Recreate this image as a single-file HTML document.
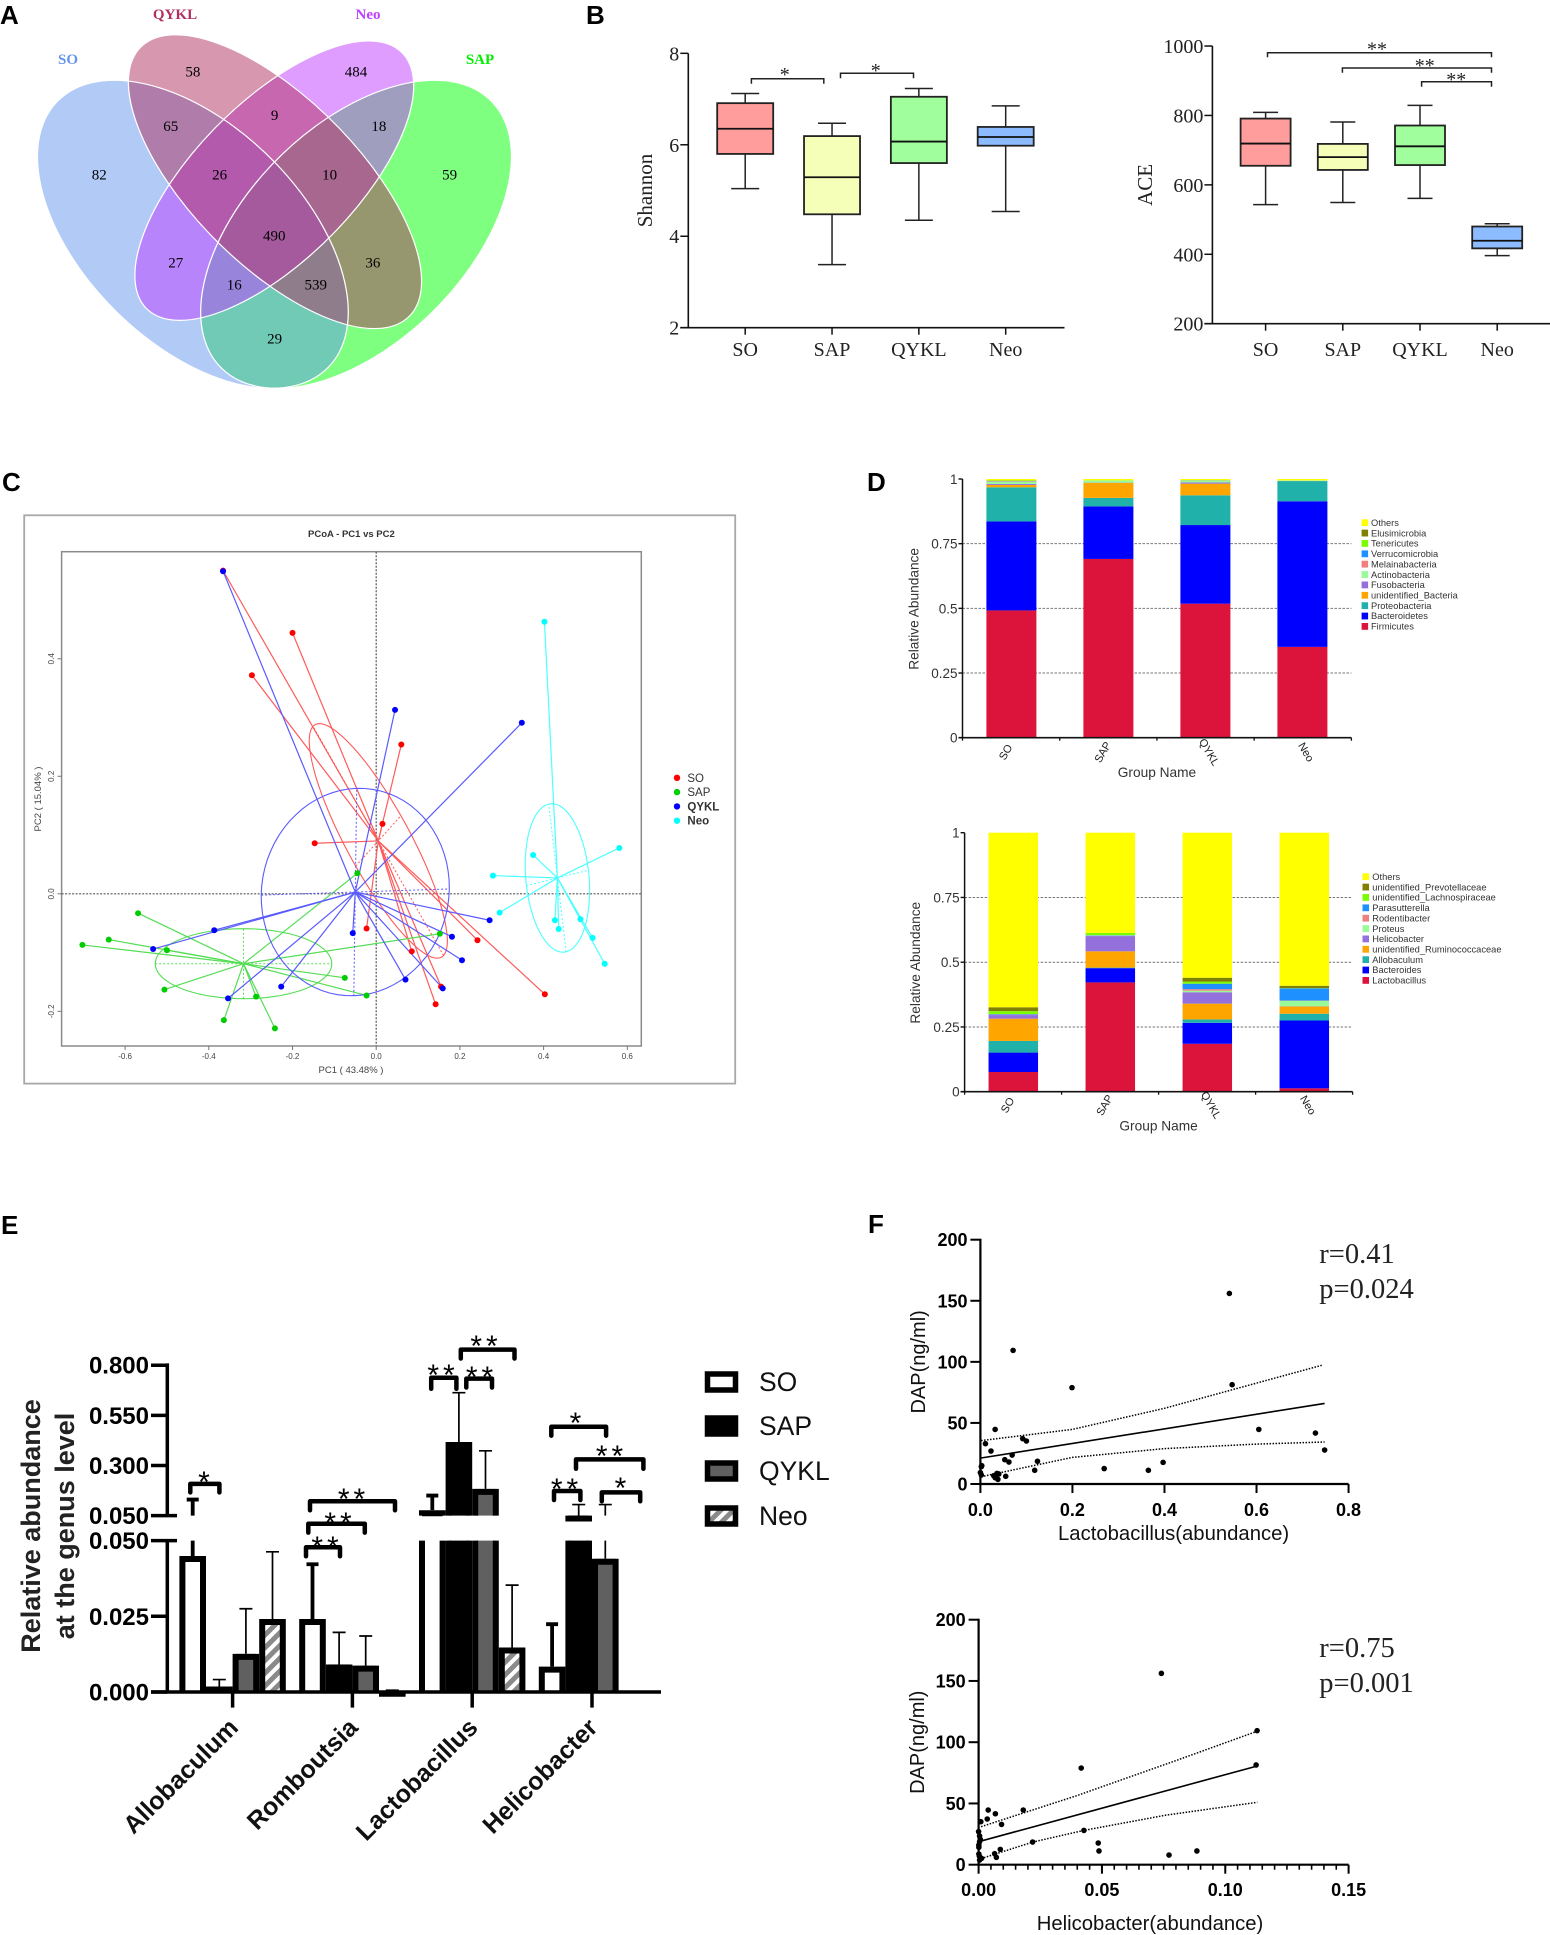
<!DOCTYPE html>
<html>
<head>
<meta charset="utf-8">
<title>Microbiome figure</title>
<style>
html,body{margin:0;padding:0;background:#fff}
svg{display:block}
text{font-family:"Liberation Sans",sans-serif}
.serif{font-family:"Liberation Serif",serif}
</style>
</head>
<body>
<svg id="fig" xmlns="http://www.w3.org/2000/svg" width="1550" height="1935" viewBox="0 0 1550 1935">
<defs>
<pattern id="hatch" width="9" height="9" patternUnits="userSpaceOnUse" patternTransform="rotate(45)">
<rect width="9" height="9" fill="#fff"/>
<rect width="5" height="9" fill="#8a8a8a"/>
</pattern>
</defs>
<rect width="1550" height="1935" fill="#fff"/>

<g font-size="26" font-weight="700" fill="#000">
<text x="0" y="24">A</text>
<text x="586" y="24">B</text>
<text x="2" y="491">C</text>
<text x="867" y="491">D</text>
<text x="1" y="1234">E</text>
<text x="868" y="1233">F</text>
</g>

<g id="panel-a">
<g transform="scale(.35714,.33333)">
<ellipse rx="551" ry="315" transform="translate(997,703) rotate(-48.4)" fill="#00ff00" fill-opacity=".5"/>
<ellipse rx="551" ry="315" transform="translate(540,703) rotate(48.4)" fill="#6495ed" fill-opacity=".5"/>
<ellipse rx="525" ry="229" transform="translate(768,542) rotate(-48)" fill="#bf3eff" fill-opacity=".5"/>
<ellipse rx="552" ry="241" transform="translate(770,545) rotate(48)" fill="#b03060" fill-opacity=".5"/>
<g fill="none" stroke="#fff" stroke-width="3.5">
<ellipse rx="551" ry="315" transform="translate(997,703) rotate(-48.4)"/>
<ellipse rx="551" ry="315" transform="translate(540,703) rotate(48.4)"/>
<ellipse rx="525" ry="229" transform="translate(768,542) rotate(-48)"/>
<ellipse rx="552" ry="241" transform="translate(770,545) rotate(48)"/>
</g>
</g>
<g class="serif" font-size="15" font-weight="700" text-anchor="middle">
<text class="serif" x="68" y="64" fill="#6495ed">SO</text>
<text class="serif" x="175" y="19" fill="#b03060">QYKL</text>
<text class="serif" x="368" y="19" fill="#bf3eff">Neo</text>
<text class="serif" x="480" y="64" fill="#00ee00">SAP</text>
</g>
<g font-size="15" text-anchor="middle" fill="#000">
<text class="serif" x="192.9" y="76.7">58</text>
<text class="serif" x="356" y="76.7">484</text>
<text class="serif" x="170.7" y="131">65</text>
<text class="serif" x="274.6" y="120">9</text>
<text class="serif" x="378.9" y="131">18</text>
<text class="serif" x="99.3" y="179.7">82</text>
<text class="serif" x="219.6" y="179.7">26</text>
<text class="serif" x="329.6" y="179.7">10</text>
<text class="serif" x="449.6" y="179.7">59</text>
<text class="serif" x="274.3" y="240.3">490</text>
<text class="serif" x="175.7" y="267.7">27</text>
<text class="serif" x="372.9" y="267.7">36</text>
<text class="serif" x="234.3" y="289.3">16</text>
<text class="serif" x="315.7" y="289.3">539</text>
<text class="serif" x="274.6" y="343.3">29</text>
</g>
</g>

<g id="panel-b-shannon"></g>
<g fill="none" stroke="#222" stroke-width="1.5">
<path d="M751.4 83.7V78.7H823.8V83.7"/>
<path d="M840.5 78.3V73.3H913.5V78.3"/>
<text class="serif" x="784.8" y="81" font-size="20" fill="#222" stroke="none" text-anchor="middle">*</text>
<text class="serif" x="875.8" y="77" font-size="20" fill="#222" stroke="none" text-anchor="middle">*</text>
</g>

<g id="panel-b-ace"></g>
<g fill="none" stroke="#222" stroke-width="1.5">
<path d="M1267.5 57.3V52.7H1491.5V57.3"/>
<path d="M1342.4 72.7V68H1491.5V72.7"/>
<path d="M1421.6 86.7V81.7H1491.5V86.7"/>
<text class="serif" x="1377" y="55.5" font-size="20" fill="#222" stroke="none" text-anchor="middle">**</text>
<text class="serif" x="1424.7" y="72" font-size="20" fill="#222" stroke="none" text-anchor="middle">**</text>
<text class="serif" x="1456.2" y="86" font-size="20" fill="#222" stroke="none" text-anchor="middle">**</text>
</g>

<g id="panel-c"></g>
<g id="panel-d-top"></g>
<g id="panel-d-bottom"></g>

<g id="panel-e"></g>
<g fill="none" stroke="#000" stroke-width="4.5" stroke-linecap="round" stroke-linejoin="round">
<path d="M190.3 1492.4V1483.9H219.4V1492.4"/>
<path d="M306 1556.3V1547.3H340V1556.3"/>
<path d="M308.3 1532.6V1523.7H364.8V1532.6"/>
<path d="M310 1510.3V1501.3H395V1510.3"/>
<path d="M431.2 1388.8V1377.7H456.4V1388.8"/>
<path d="M466.3 1387.5V1378.6H492V1387.5"/>
<path d="M460.8 1358.5V1349.6H514.5V1358.5"/>
<path d="M551.3 1435.7V1426.8H606.1V1435.7"/>
<path d="M576 1468.8V1459.4H643.4V1468.8"/>
<path d="M554 1500V1491H580.4V1500"/>
<path d="M601.8 1501.3V1492.4H640.2V1501.3"/>
<g font-size="30" fill="#000" stroke="none" text-anchor="middle" letter-spacing="4">
<text x="206" y="1492">*</text>
<text x="327" y="1557">**</text>
<text x="340" y="1533">**</text>
<text x="353.5" y="1509">**</text>
<text x="443" y="1385">**</text>
<text x="481.5" y="1387">**</text>
<text x="486" y="1356">**</text>
<text x="577.5" y="1433">*</text>
<text x="611.5" y="1466">**</text>
<text x="566.5" y="1499">**</text>
<text x="622.5" y="1498">*</text>
</g>
</g>
<g>
<rect x="707.5" y="1374" width="28" height="16" fill="#fff" stroke="#000" stroke-width="5.5"/>
<rect x="707.5" y="1418" width="28" height="16" fill="#000" stroke="#000" stroke-width="5.5"/>
<rect x="707.5" y="1463" width="28" height="16" fill="#606060" stroke="#000" stroke-width="5.5"/>
<rect x="707.5" y="1508" width="28" height="16" fill="url(#hatch)" stroke="#000" stroke-width="5.5"/>
<g font-size="26.5" fill="#111">
<text x="759" y="1391">SO</text>
<text x="759" y="1435">SAP</text>
<text x="759" y="1480">QYKL</text>
<text x="759" y="1525">Neo</text>
</g>
</g>

<g id="panel-f-top"></g>
<g id="panel-f-bottom"></g>
</svg>

<script>
/* ---------- Shannon box plot ---------- */
const boxCategories = ['SO', 'SAP', 'QYKL', 'Neo'];
const boxColors = ['#ff9c9c', '#f5ffb8', '#a0ff9c', '#8cbcff'];
const shannonTicks = [2, 4, 6, 8];
const shannonHigh = [7.12, 6.47, 7.23, 6.85];
const shannonQ3 = [6.91, 6.19, 7.05, 6.39];
const shannonMedian = [6.35, 5.29, 6.07, 6.17];
const shannonQ1 = [5.80, 4.48, 5.60, 5.98];
const shannonLow = [5.04, 3.38, 4.35, 4.54];

/* ---------- ACE box plot ---------- */
const aceTicks = [200, 400, 600, 800, 1000];
const aceHigh = [809, 781, 829, 488];
const aceQ3 = [791, 718, 771, 480];
const aceMedian = [719, 680, 711, 439];
const aceQ1 = [655, 643, 657, 417];
const aceLow = [543, 549, 561, 396];

/* ---------- PCoA ---------- */
const pcoaXTicks = [-0.6, -0.4, -0.2, 0, 0.2, 0.4, 0.6];
const pcoaYTicks = [-0.2, 0, 0.2, 0.4];
const soPC1 = [-0.366, -0.200, -0.297, 0.060, 0.015, -0.147, -0.023, 0.085, 0.155, 0.142, 0.242, 0.403];
const soPC2 = [0.550, 0.444, 0.372, 0.254, 0.119, 0.086, -0.059, -0.098, -0.158, -0.188, -0.079, -0.171];
const sapPC1 = [-0.569, -0.639, -0.702, -0.500, -0.506, -0.364, -0.287, -0.242, -0.075, -0.023, 0.152, -0.045];
const sapPC2 = [-0.033, -0.078, -0.087, -0.096, -0.163, -0.215, -0.175, -0.229, -0.143, -0.173, -0.068, 0.035];
const qyklPC1 = [-0.366, 0.045, 0.348, 0.271, 0.181, 0.205, 0.159, 0.070, -0.056, -0.227, -0.354, -0.533, -0.387];
const qyklPC2 = [0.549, 0.313, 0.291, -0.045, -0.073, -0.113, -0.161, -0.146, -0.067, -0.158, -0.178, -0.094, -0.062];
const neoPC1 = [0.402, 0.581, 0.375, 0.279, 0.295, 0.427, 0.436, 0.488, 0.517, 0.546];
const neoPC2 = [0.463, 0.078, 0.066, 0.031, -0.032, -0.045, -0.060, -0.043, -0.075, -0.119];
const soCentroid = [0.005, 0.090];
const sapCentroid = [-0.317, -0.119];
const qyklCentroid = [-0.050, 0.003];
const neoCentroid = [0.433, 0.027];
const soEllipseAxes = [-0.156, 0.195, 0.054, 0.043];
const sapEllipseAxes = [0.211, 0, 0, 0.0596];
const qyklEllipseAxes = [0.0035, 0.1765, 0.2247, 0.0052];
const neoEllipseAxes = [-0.0209, 0.1257, 0.0741, 0.013];

/* ---------- Stacked bars, phylum ---------- */
const stackCategories = ['SO', 'SAP', 'QYKL', 'Neo'];
const stackTicks = [0, 0.25, 0.5, 0.75, 1];
const stackColors = ['#dc143c', '#0000ff', '#20b2aa', '#ffa500', '#9370db', '#98fb98', '#f08080', '#1e90ff', '#7cfc00', '#808000', '#ffff00'];
const phylumNames = ['Firmicutes', 'Bacteroidetes', 'Proteobacteria', 'unidentified_Bacteria', 'Fusobacteria', 'Actinobacteria', 'Melainabacteria', 'Verrucomicrobia', 'Tenericutes', 'Elusimicrobia', 'Others'];
const firmicutes = [0.492, 0.691, 0.518, 0.351];
const bacteroidetes = [0.344, 0.203, 0.304, 0.563];
const proteobacteria = [0.132, 0.033, 0.115, 0.078];
const unidentifiedBacteria = [0.009, 0.058, 0.045, 0.001];
const fusobacteria = [0.004, 0.001, 0.005, 0];
const actinobacteria = [0.008, 0.008, 0.006, 0.002];
const melainabacteria = [0.002, 0, 0, 0];
const verrucomicrobia = [0.001, 0, 0.001, 0];
const tenericutes = [0.002, 0.001, 0.001, 0];
const elusimicrobia = [0.001, 0, 0, 0];
const phylumOthers = [0.005, 0.005, 0.005, 0.005];
const phylumSeries = [firmicutes, bacteroidetes, proteobacteria, unidentifiedBacteria, fusobacteria, actinobacteria, melainabacteria, verrucomicrobia, tenericutes, elusimicrobia, phylumOthers];

/* ---------- Stacked bars, genus ---------- */
const genusNames = ['Lactobacillus', 'Bacteroides', 'Allobaculum', 'unidentified_Ruminococcaceae', 'Helicobacter', 'Proteus', 'Rodentibacter', 'Parasutterella', 'unidentified_Lachnospiraceae', 'unidentified_Prevotellaceae', 'Others'];
const lactobacillusShare = [0.076, 0.422, 0.185, 0.013];
const bacteroidesShare = [0.075, 0.055, 0.081, 0.262];
const allobaculumShare = [0.045, 0.002, 0.013, 0.026];
const ruminococcaceaeShare = [0.086, 0.063, 0.061, 0.028];
const helicobacterShare = [0.014, 0.059, 0.044, 0.001];
const proteusShare = [0.001, 0.002, 0.006, 0.021];
const rodentibacterShare = [0.001, 0.001, 0.006, 0.001];
const parasutterellaShare = [0.002, 0.001, 0.021, 0.047];
const lachnospiraceaeShare = [0.011, 0.008, 0.008, 0.001];
const prevotellaceaeShare = [0.015, 0, 0.015, 0.009];
const genusOthers = [0.674, 0.387, 0.560, 0.591];
const genusSeries = [lactobacillusShare, bacteroidesShare, allobaculumShare, ruminococcaceaeShare, helicobacterShare, proteusShare, rodentibacterShare, parasutterellaShare, lachnospiraceaeShare, prevotellaceaeShare, genusOthers];

/* ---------- Broken-axis bars ---------- */
const abundanceGenera = ['Allobaculum', 'Romboutsia', 'Lactobacillus', 'Helicobacter'];
const abundanceGroups = ['SO', 'SAP', 'QYKL', 'Neo'];
const abundanceLowerTicks = [0, 0.025, 0.05];
const abundanceUpperTicks = [0.05, 0.3, 0.55, 0.8];
const abundanceSO = [0.0449, 0.0241, 0.0765, 0.0084];
const abundanceSOError = [0.13, 0.0422, 0.15, 0.0224];
const abundanceSAP = [0.0018, 0.0091, 0.417, 0.0505];
const abundanceSAPError = [0.0041, 0.0197, 0.663, 0.105];
const abundanceQYKL = [0.0126, 0.0087, 0.183, 0.044];
const abundanceQYKLError = [0.0275, 0.0185, 0.373, 0.105];
const abundanceNeo = [0.0241, 0.0004, 0.0147, 0];
const abundanceNeoError = [0.0463, 0.0006, 0.0353, 0];
const abundanceValues = [abundanceSO, abundanceSAP, abundanceQYKL, abundanceNeo];
const abundanceErrors = [abundanceSOError, abundanceSAPError, abundanceQYKLError, abundanceNeoError];

/* ---------- Scatter: Lactobacillus ---------- */
const scatterYTicks = [0, 50, 100, 150, 200];
const lactoXTicks = [0, 0.2, 0.4, 0.6, 0.8];
const lactoAbundance = [0.541, 0.071, 0.547, 0.199, 0.605, 0.728, 0.748, 0.032, 0.011, 0.092, 0.100, 0.023, 0.069, 0.053, 0.062, 0.124, 0.118, 0.269, 0.365, 0.397, 0.003, 0.002, 0, 0.002, 0.029, 0.036, 0.032, 0.038, 0.055, 0.040];
const lactoDAP = [156, 109.4, 81.3, 78.9, 44.7, 41.7, 27.8, 44.7, 33, 37.1, 35.2, 27, 23.7, 19.9, 18, 18.6, 11.2, 12.6, 11.2, 17.7, 15, 14.2, 9.3, 7.4, 6.8, 8.7, 5.2, 3.8, 6.3, 8.2];
const lactoFitX = [0.0015, 0.748];
const lactoFitY = [21.3, 66];
const lactoUpperX = [0.0015, 0.2, 0.4, 0.546, 0.744];
const lactoUpperY = [35.5, 44.7, 62, 77, 97.4];
const lactoLowerX = [0.0015, 0.2, 0.4, 0.6, 0.748];
const lactoLowerY = [6, 21.8, 29, 32.7, 34.4];

/* ---------- Scatter: Helicobacter ---------- */
const heliXTicks = [0, 0.05, 0.1, 0.15];
const heliAbundance = [0.0741, 0.1129, 0.1125, 0.0416, 0.0039, 0.0068, 0.0181, 0.0035, 0.0009, 0.0093, 0, 0.0427, 0.0004, 0.0007, 0.0004, 0.0219, 0.0485, 0.0001, 0.0001, 0.0488, 0.0088, 0.0885, 0.0772, 0.0065, 0.0072, 0.0001, 0.0003, 0.0012, 0.0004];
const heliDAP = [156.2, 109.4, 81.4, 78.9, 44.6, 41.6, 44.6, 37.3, 35.1, 32.9, 27, 28, 23.4, 20.7, 18.8, 18.5, 17.7, 16, 14.2, 11.2, 12.5, 11.2, 7.9, 9, 6, 8.7, 7, 5.2, 3.8];
const heliFitX = [0, 0.1128];
const heliFitY = [18.8, 80.5];
const heliUpperX = [0.001, 0.04, 0.08, 0.113];
const heliUpperY = [31, 56.5, 85, 109];
const heliLowerX = [0.001, 0.022, 0.0427, 0.076, 0.113];
const heliLowerY = [5, 18.5, 28, 40.5, 50.9];

const NS = 'http://www.w3.org/2000/svg';
function mk(tag, attrs, parent, content) {
  const node = document.createElementNS(NS, tag);
  for (const key in attrs) node.setAttribute(key, attrs[key]);
  if (content !== undefined) node.textContent = content;
  parent.appendChild(node);
  return node;
}
function slug(s) { return String(s).toLowerCase().replace(/[^a-z0-9]+/g, '-'); }

/* ===== Box plots ===== */
function drawBoxes(id, prefix, title, ticks, xFn, yFn, axisX, axisEnd, titleX, boxW, capW, hi, q3, med, q1, lo) {
  const g = document.getElementById(id);
  const serif = 'Liberation Serif';
  const bottom = yFn(ticks[0]);
  const yAxis = mk('line', {x1: axisX, x2: axisX, y1: yFn(ticks[ticks.length - 1]), y2: bottom, stroke: '#111', 'stroke-width': 1.6}, g);
  
  
  const xAxis = mk('line', {x1: axisX - 8, x2: axisEnd, y1: bottom, y2: bottom, stroke: '#111', 'stroke-width': 1.6}, g);
  
  
  ticks.forEach(function (t) {
    const tick = mk('line', {x1: axisX - 8, x2: axisX, y1: yFn(t), y2: yFn(t), stroke: '#111', 'stroke-width': 1.5}, g);
    
    
    const label = mk('text', {x: axisX - 9, y: yFn(t) + 7, 'font-size': 20, 'text-anchor': 'end', fill: '#222', style: 'font-family:"' + serif + '",serif'}, g, t);
    
    
  });
  const cy = (yFn(ticks[0]) + yFn(ticks[ticks.length - 1])) / 2;
  const titleNode = mk('text', {x: titleX, y: cy, 'font-size': 21, 'text-anchor': 'middle', fill: '#222', transform: 'rotate(-90 ' + titleX + ' ' + cy + ')', style: 'font-family:"' + serif + '",serif'}, g, title);
  
  
  boxCategories.forEach(function (cat, i) {
    const x = xFn(i);
    const name = prefix + '-' + slug(cat);
    const tick = mk('line', {x1: x, x2: x, y1: bottom, y2: bottom + 7, stroke: '#111', 'stroke-width': 1.5}, g);
    
    
    const catLabel = mk('text', {x: x, y: 356, 'font-size': 20, 'text-anchor': 'middle', fill: '#222', style: 'font-family:"' + serif + '",serif'}, g, cat);
    
    
    const whisker = mk('path', {d: 'M' + (x - capW / 2) + ' ' + yFn(hi[i]) + 'H' + (x + capW / 2) + 'M' + x + ' ' + yFn(hi[i]) + 'V' + yFn(lo[i]) + 'M' + (x - capW / 2) + ' ' + yFn(lo[i]) + 'H' + (x + capW / 2), fill: 'none', stroke: '#222', 'stroke-width': 1.5}, g);
    
    
    const box = mk('rect', {x: x - boxW / 2, y: yFn(q3[i]), width: boxW, height: yFn(q1[i]) - yFn(q3[i]), fill: boxColors[i], stroke: '#222', 'stroke-width': 1.8}, g);
    
    
    const median = mk('line', {x1: x - boxW / 2, x2: x + boxW / 2, y1: yFn(med[i]), y2: yFn(med[i]), stroke: '#111', 'stroke-width': 1.8}, g);
    
    
  });
}
drawBoxes('panel-b-shannon', 'shannon', 'Shannon', shannonTicks,
  function (i) { return 745.2 + 86.83 * i; },
  function (v) { return 327.7 - (v - 2) * 45.73; },
  688.3, 1064.5, 652, 56, 28,
  shannonHigh, shannonQ3, shannonMedian, shannonQ1, shannonLow);
drawBoxes('panel-b-ace', 'ace', 'ACE', aceTicks,
  function (i) { return 1265.6 + 77.2 * i; },
  function (v) { return 323.7 - (v - 200) * 0.3471; },
  1212.4, 1550, 1152, 50, 25,
  aceHigh, aceQ3, aceMedian, aceQ1, aceLow);

/* ===== PCoA ===== */
(function () {
  const g = document.getElementById('panel-c');
  const pcX = function (v) { return 376.2 + v * 418.5; };
  const pcY = function (v) { return 893.8 - v * 587.6; };
  const frame = mk('rect', {x: 24.2, y: 515.3, width: 711, height: 568.3, fill: '#fff', stroke: '#a8a8a8', 'stroke-width': 1.8}, g);
  
  
  const plot = mk('rect', {x: 61.6, y: 551.7, width: 579.7, height: 494.3, fill: '#fff', stroke: '#8a8a8a', 'stroke-width': 1.5}, g);
  
  
  const title = mk('text', {x: 351.4, y: 537, 'font-size': 9.5, 'font-weight': 700, 'text-anchor': 'middle', fill: '#333'}, g, 'PCoA - PC1 vs PC2');
  
  
  const xTitle = mk('text', {x: 351, y: 1073, 'font-size': 9.5, 'text-anchor': 'middle', fill: '#444'}, g, 'PC1 ( 43.48% )');
  
  
  const yTitle = mk('text', {x: 41, y: 799, 'font-size': 9.5, 'text-anchor': 'middle', fill: '#444', transform: 'rotate(-90 41 799)'}, g, 'PC2 ( 15.04% )');
  
  
  pcoaXTicks.forEach(function (t) {
    const tick = mk('line', {x1: pcX(t), x2: pcX(t), y1: 1046, y2: 1050, stroke: '#777', 'stroke-width': 1}, g);
    
    
    const label = mk('text', {x: pcX(t), y: 1059, 'font-size': 8, 'text-anchor': 'middle', fill: '#444'}, g, t.toFixed(1));
    
    
  });
  pcoaYTicks.forEach(function (t) {
    const tick = mk('line', {x1: 57.6, x2: 61.6, y1: pcY(t), y2: pcY(t), stroke: '#777', 'stroke-width': 1}, g);
    
    
    const label = mk('text', {x: 54, y: pcY(t), 'font-size': 8, 'text-anchor': 'middle', fill: '#444', transform: 'rotate(-90 54 ' + pcY(t) + ')'}, g, t.toFixed(1));
    
    
  });
  const hZero = mk('line', {x1: 61.6, x2: 641.3, y1: pcY(0), y2: pcY(0), stroke: '#555', 'stroke-width': 1.2, 'stroke-dasharray': '2 1.5'}, g);
  
  
  const vZero = mk('line', {x1: pcX(0), x2: pcX(0), y1: 551.7, y2: 1046, stroke: '#555', 'stroke-width': 1.2, 'stroke-dasharray': '2 1.5'}, g);
  
  

  const groups = [
    {name: 'so', label: 'SO', color: '#ff0000', line: '#ff5a5a', xs: soPC1, ys: soPC2, c: soCentroid, e: soEllipseAxes},
    {name: 'sap', label: 'SAP', color: '#00cd00', line: '#55dd55', xs: sapPC1, ys: sapPC2, c: sapCentroid, e: sapEllipseAxes},
    {name: 'qykl', label: 'QYKL', color: '#0000ff', line: '#5a5aff', xs: qyklPC1, ys: qyklPC2, c: qyklCentroid, e: qyklEllipseAxes},
    {name: 'neo', label: 'Neo', color: '#00ffff', line: '#4dffff', xs: neoPC1, ys: neoPC2, c: neoCentroid, e: neoEllipseAxes}
  ];
  groups.forEach(function (gr) {
    const cx = gr.c[0], cy = gr.c[1], e = gr.e;
    let d = '';
    for (let a = 0; a <= 72; a++) {
      const t = a / 72 * 2 * Math.PI;
      const px = cx + e[0] * Math.cos(t) + e[2] * Math.sin(t);
      const py = cy + e[1] * Math.cos(t) + e[3] * Math.sin(t);
      d += (a ? 'L' : 'M') + pcX(px).toFixed(1) + ' ' + pcY(py).toFixed(1);
    }
    const ell = mk('path', {d: d, fill: 'none', stroke: gr.line, 'stroke-width': 1.1}, g);
    
    
    const axes = 'M' + pcX(cx - e[0]) + ' ' + pcY(cy - e[1]) + 'L' + pcX(cx + e[0]) + ' ' + pcY(cy + e[1]) + 'M' + pcX(cx - e[2]) + ' ' + pcY(cy - e[3]) + 'L' + pcX(cx + e[2]) + ' ' + pcY(cy + e[3]);
    const dash = mk('path', {d: axes, fill: 'none', stroke: gr.line, 'stroke-width': 1, 'stroke-dasharray': '2 2'}, g);
    
    
    gr.xs.forEach(function (x, i) {
      const spoke = mk('line', {x1: pcX(cx), y1: pcY(cy), x2: pcX(x), y2: pcY(gr.ys[i]), stroke: gr.line, 'stroke-width': 1.2}, g);
      
      
    });
  });
  groups.forEach(function (gr) {
    gr.xs.forEach(function (x, i) {
      const dot = mk('circle', {cx: pcX(x), cy: pcY(gr.ys[i]), r: 3, fill: gr.color}, g);
      
      
    });
  });
  groups.forEach(function (gr, i) {
    const y = 777.8 + i * 14.3;
    const dot = mk('circle', {cx: 677, cy: y, r: 3.2, fill: gr.color}, g);
    
    
    const text = mk('text', {x: 687.4, y: y + 4, 'font-size': 11.5, fill: '#333', 'font-weight': i >= 2 ? 700 : 400}, g, gr.label);
    
    
  });
})();

/* ===== Stacked bars ===== */
function drawStack(id, prefix, names, series, axisX, axisEnd, topY, bottomY, firstBar, barStep, barW, titleX, groupY, legendSwatchX, legendTextX, legendY, catY) {
  const g = document.getElementById(id);
  const yFn = function (v) { return bottomY - v * (bottomY - topY); };
  const xFn = function (i) { return firstBar + barStep * i; };
  stackTicks.forEach(function (t) {
    if (t > 0 && t < 1) {
      const grid = mk('line', {x1: axisX, x2: axisEnd, y1: yFn(t), y2: yFn(t), stroke: '#777', 'stroke-width': 1, 'stroke-dasharray': '2.5 1.5'}, g);
      
      
    }
    const tick = mk('line', {x1: axisX - 4, x2: axisX, y1: yFn(t), y2: yFn(t), stroke: '#111', 'stroke-width': 1.4}, g);
    
    
    const label = mk('text', {x: axisX - 5, y: yFn(t) + 5, 'font-size': 13.5, 'text-anchor': 'end', fill: '#333'}, g, t);
    
    
  });
  stackCategories.forEach(function (cat, c) {
    let base = 0;
    series.forEach(function (values, s) {
      const v = values[c];
      if (v > 0) {
        const seg = mk('rect', {x: xFn(c) - barW / 2, y: yFn(base + v), width: barW, height: yFn(base) - yFn(base + v), fill: stackColors[s]}, g);
        
        
      }
      base += v;
    });
    const rot = c < 2 ? -60 : 60;
    const lx = xFn(c) + (c < 2 ? -6 : 4);
    const label = mk('text', {x: lx, y: catY + 4, 'font-size': 11, 'text-anchor': 'middle', fill: '#222', transform: 'rotate(' + rot + ' ' + lx + ' ' + catY + ')'}, g, cat);
    
    
  });
  const yAxis = mk('line', {x1: axisX, x2: axisX, y1: topY, y2: bottomY + 1, stroke: '#111', 'stroke-width': 1.5}, g);
  
  
  const xAxis = mk('line', {x1: axisX - 4, x2: axisEnd, y1: bottomY, y2: bottomY, stroke: '#111', 'stroke-width': 1.6}, g);
  
  
  for (let i = 0; i <= stackCategories.length; i++) {
    const x = axisX + (axisEnd - axisX) * i / stackCategories.length;
    const tick = mk('line', {x1: x, x2: x, y1: bottomY, y2: bottomY + 3, stroke: '#111', 'stroke-width': 1.3}, g);
    
    
  }
  const midY = (topY + bottomY) / 2 + 0.5;
  const yTitle = mk('text', {x: titleX, y: midY, 'font-size': 13.7, 'text-anchor': 'middle', fill: '#333', transform: 'rotate(-90 ' + titleX + ' ' + midY + ')'}, g, 'Relative Abundance');
  
  
  const xTitle = mk('text', {x: (axisX + axisEnd) / 2, y: groupY + 5, 'font-size': 13.7, 'text-anchor': 'middle', fill: '#333'}, g, 'Group Name');
  
  
  for (let i = names.length - 1; i >= 0; i--) {
    const row = names.length - 1 - i;
    const y = legendY + row * 10.37;
    const sw = mk('rect', {x: legendSwatchX, y: y - 3.4, width: 6.5, height: 6.8, fill: stackColors[i]}, g);
    
    
    const text = mk('text', {x: legendTextX, y: y + 3.2, 'font-size': 9.3, fill: '#333'}, g, names[i]);
    
    
  }
}
drawStack('panel-d-top', 'phylum', phylumNames, phylumSeries, 962.5, 1351.4, 479, 737.7, 1011.4, 97, 50, 918.5, 772, 1361.6, 1371, 522.7, 752);
drawStack('panel-d-bottom', 'genus', genusNames, genusSeries, 964.6, 1352.6, 832.7, 1091.7, 1013.3, 97, 49.5, 920, 1125.7, 1362.5, 1372.3, 876.7, 1105);

/* ===== Broken-axis bars ===== */
(function () {
  const g = document.getElementById('panel-e');
  const baseY = 1692, lowTop = 1540.6, upBase = 1515.6;
  const axisX = 167.3;
  const low = function (v) { return baseY - v * (baseY - lowTop) / 0.05; };
  const up = function (v) { return upBase - (v - 0.05) * (upBase - 1365.2) / 0.75; };
  const center = function (i) { return 232.6 + 119.8 * i; };
  const barW = 26.6;
  const strokeW = 6;
  const fills = ['#ffffff', '#000000', '#606060', 'url(#hatch)'];

  abundanceGenera.forEach(function (genus, gi) {
    abundanceGroups.forEach(function (grp, si) {
      const v = abundanceValues[si][gi];
      const e = abundanceErrors[si][gi];
      if (v <= 0) return;
      const name = slug(genus) + '-' + slug(grp);
      const left = center(gi) + (si - 2) * barW;
      const x0 = left + 3;
      const x1 = left + 23.6;
      const mid = (x0 + x1) / 2;
      const errW = si === 0 ? 3.8 : 1.7;
      const capHalf = si === 0 ? 6 : 6.5;
      let ed = '';
      if (e <= 0.05) {
        ed = 'M' + mid + ' ' + low(v) + 'V' + low(e) + 'M' + (mid - capHalf) + ' ' + low(e) + 'H' + (mid + capHalf);
      } else {
        if (v < 0.05) ed += 'M' + mid + ' ' + low(v) + 'V' + lowTop;
        const startY = v < 0.05 ? upBase : up(v);
        ed += 'M' + mid + ' ' + startY + 'V' + up(e) + 'M' + (mid - capHalf) + ' ' + up(e) + 'H' + (mid + capHalf);
      }
      const err = mk('path', {d: ed, fill: 'none', stroke: '#000', 'stroke-width': errW}, g);
      
      
      const lowHeight = Math.min(v, 0.05);
      const fill = mk('rect', {x: x0, y: low(lowHeight), width: x1 - x0, height: baseY - low(lowHeight), fill: fills[si]}, g);
      
      
      const topLine = v <= 0.05 ? 'V' + (low(v) + 3) + 'H' + x1 + 'V' + baseY : 'V' + lowTop + 'M' + x1 + ' ' + lowTop + 'V' + baseY;
      const outline = mk('path', {d: 'M' + x0 + ' ' + baseY + topLine, fill: 'none', stroke: '#000', 'stroke-width': strokeW}, g);
      
      
      if (v > 0.05) {
        const upFill = mk('rect', {x: x0, y: up(v), width: x1 - x0, height: upBase - up(v), fill: fills[si]}, g);
        
        
        const upOutline = mk('path', {d: 'M' + x0 + ' ' + upBase + 'V' + (up(v) + 3) + 'H' + x1 + 'V' + upBase, fill: 'none', stroke: '#000', 'stroke-width': strokeW}, g);
        
        
      }
    });
  });

  const xAxis = mk('line', {x1: 151, x2: 661, y1: baseY, y2: baseY, stroke: '#000', 'stroke-width': 3.5}, g);
  
  
  const lowerAxis = mk('line', {x1: axisX, x2: axisX, y1: lowTop, y2: baseY, stroke: '#000', 'stroke-width': 3.5}, g);
  
  
  const upperAxis = mk('line', {x1: axisX, x2: axisX, y1: 1363.4, y2: upBase, stroke: '#000', 'stroke-width': 3.5}, g);
  
  

  function yTick(y, t, extend) {
    const tick = mk('line', {x1: 151, x2: extend ? 177 : axisX, y1: y, y2: y, stroke: '#000', 'stroke-width': 3.5}, g);
    
    
    const label = mk('text', {x: 149, y: y + 8.5, 'font-size': 24, 'font-weight': 700, 'text-anchor': 'end', fill: '#000'}, g, t.toFixed(3));
    
    
  }
  abundanceLowerTicks.forEach(function (t) { yTick(low(t), t, t === 0.05); });
  abundanceUpperTicks.forEach(function (t) { yTick(up(t), t, t === 0.05); });

  abundanceGenera.forEach(function (genus, gi) {
    const x = center(gi);
    const tick = mk('line', {x1: x, x2: x, y1: baseY, y2: 1707.6, stroke: '#000', 'stroke-width': 3.5}, g);
    
    
    const ax = x + 7, ay = 1729;
    const label = mk('text', {x: ax, y: ay, 'font-size': 25, 'font-weight': 700, 'text-anchor': 'end', fill: '#111', transform: 'rotate(-45 ' + ax + ' ' + ay + ')'}, g, genus);
    
    
  });

  const title1 = mk('text', {x: 40, y: 1526, 'font-size': 27, 'font-weight': 700, 'text-anchor': 'middle', fill: '#222', transform: 'rotate(-90 40 1526)'}, g, 'Relative abundance');
  
  
  const title2 = mk('text', {x: 74, y: 1526, 'font-size': 27, 'font-weight': 700, 'text-anchor': 'middle', fill: '#222', transform: 'rotate(-90 74 1526)'}, g, 'at the genus level');
  
  
})();

/* ===== Scatter plots ===== */
function drawScatter(id, prefix, xTitle, xTicks, xDigits, minorStep, xs, ys, fitX, fitY, upX, upY, loX, loY, axisX, xPerUnit, topY, bottomY, xEnd, xLabelY, tickLabelX, xTitleX, xTitleY, yTitleX, stat1, stat2, stat1Y, stat2Y) {
  const g = document.getElementById(id);
  const xFn = function (v) { return axisX + v * xPerUnit; };
  const yFn = function (v) { return bottomY - v * (bottomY - topY) / 200; };
  const lineOf = function (a, b) { return a.map(function (v, i) { return (i ? 'L' : 'M') + xFn(v).toFixed(1) + ' ' + yFn(b[i]).toFixed(1); }).join(''); };
  const fit = mk('path', {d: lineOf(fitX, fitY), fill: 'none', stroke: '#000', 'stroke-width': 1.6}, g);
  
  
  const upper = mk('path', {d: lineOf(upX, upY), fill: 'none', stroke: '#000', 'stroke-width': 1.5, 'stroke-dasharray': '1.5 1.5', 'stroke-linejoin': 'round'}, g);
  
  
  const lower = mk('path', {d: lineOf(loX, loY), fill: 'none', stroke: '#000', 'stroke-width': 1.5, 'stroke-dasharray': '1.5 1.5', 'stroke-linejoin': 'round'}, g);
  
  
  xs.forEach(function (x, i) {
    const p = mk('circle', {cx: xFn(x), cy: yFn(ys[i]), r: 2.8, fill: '#000'}, g);
    
    
  });
  const yAxis = mk('line', {x1: axisX, x2: axisX, y1: topY - 1, y2: bottomY + 1, stroke: '#000', 'stroke-width': 2.2}, g);
  
  
  const xAxis = mk('line', {x1: axisX - 1, x2: xEnd, y1: bottomY, y2: bottomY, stroke: '#000', 'stroke-width': 2.2}, g);
  
  
  scatterYTicks.forEach(function (t) {
    const tick = mk('line', {x1: axisX - 10, x2: axisX, y1: yFn(t), y2: yFn(t), stroke: '#000', 'stroke-width': 2}, g);
    
    
    const label = mk('text', {x: tickLabelX, y: yFn(t) + 6.5, 'font-size': 18, 'font-weight': 700, 'text-anchor': 'end', fill: '#000'}, g, t);
    
    
  });
  if (minorStep) {
    const last = xTicks[xTicks.length - 1];
    for (let k = 1; k * minorStep < last; k++) {
      const x = xFn(k * minorStep);
      const minor = mk('line', {x1: x, x2: x, y1: bottomY, y2: bottomY + 5, stroke: '#000', 'stroke-width': 1.6}, g);
      
      
    }
  }
  xTicks.forEach(function (t) {
    const tick = mk('line', {x1: xFn(t), x2: xFn(t), y1: bottomY, y2: bottomY + 9, stroke: '#000', 'stroke-width': 2}, g);
    
    
    const label = mk('text', {x: xFn(t), y: xLabelY, 'font-size': 18, 'font-weight': 700, 'text-anchor': 'middle', fill: '#000'}, g, t.toFixed(xDigits));
    
    
  });
  const xt = mk('text', {x: xTitleX, y: xTitleY, 'font-size': 20.3, 'text-anchor': 'middle', fill: '#111'}, g, xTitle);
  
  
  const yc = (topY + bottomY) / 2;
  const yt = mk('text', {x: yTitleX, y: yc, 'font-size': 20, 'text-anchor': 'middle', fill: '#111', transform: 'rotate(-90 ' + yTitleX + ' ' + yc + ')'}, g, 'DAP(ng/ml)');
  
  
  const r = mk('text', {x: 1319.3, y: stat1Y, 'font-size': 28.5, fill: '#222', style: 'font-family:"Liberation Serif",serif'}, g, stat1);
  
  
  const p = mk('text', {x: 1319.3, y: stat2Y, 'font-size': 28.5, fill: '#222', style: 'font-family:"Liberation Serif",serif'}, g, stat2);
  
  
}
drawScatter('panel-f-top', 'lactobacillus', 'Lactobacillus(abundance)', lactoXTicks, 1, 0,
  lactoAbundance, lactoDAP, lactoFitX, lactoFitY, lactoUpperX, lactoUpperY, lactoLowerX, lactoLowerY,
  980.4, 460.2, 1239.7, 1484, 1348.6, 1516, 967.5, 1173.6, 1540, 925, 'r=0.41', 'p=0.024', 1263, 1298);
drawScatter('panel-f-bottom', 'helicobacter', 'Helicobacter(abundance)', heliXTicks, 2, 0.005,
  heliAbundance, heliDAP, heliFitX, heliFitY, heliUpperX, heliUpperY, heliLowerX, heliLowerY,
  978.6, 2466.7, 1619.7, 1864.7, 1348.6, 1896, 965.7, 1150, 1930, 924, 'r=0.75', 'p=0.001', 1657, 1692);
</script>
</body>
</html>
